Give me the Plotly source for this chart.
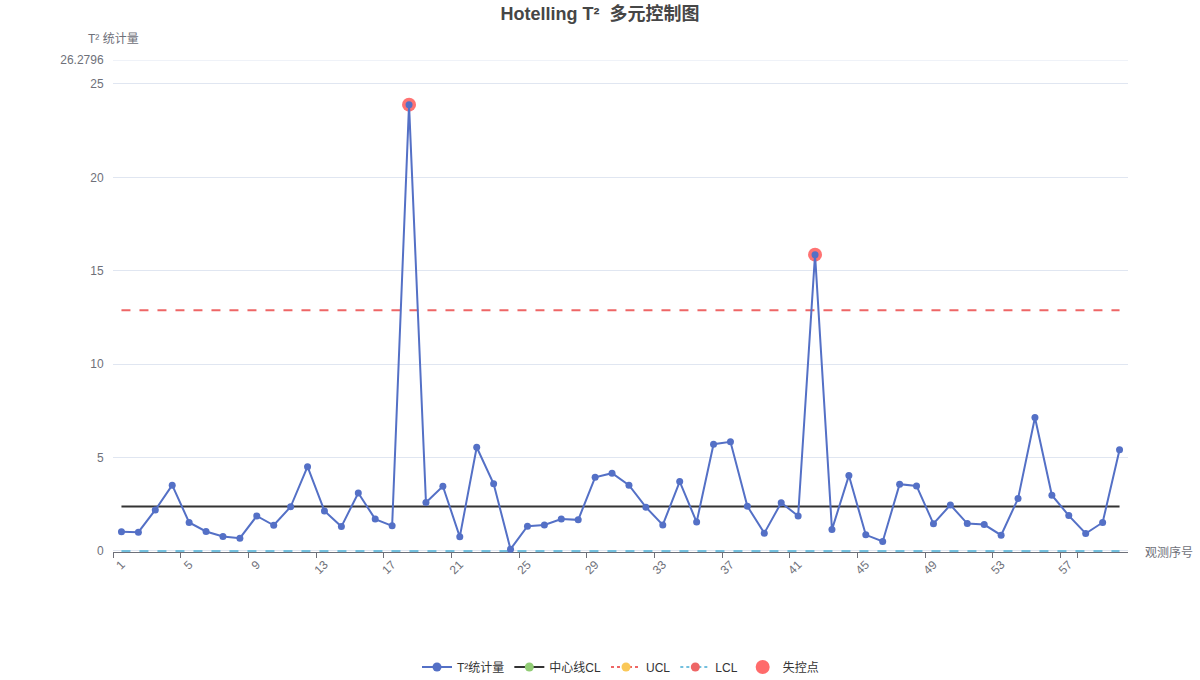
import plotly.graph_objects as go

# ---- data ----
obs = [str(i) for i in range(1, 61)]
t2_values = [1.02, 1.00, 2.19, 3.52, 1.52, 1.04, 0.77, 0.68, 1.87, 1.37,
             2.36, 4.51, 2.14, 1.30, 3.10, 1.70, 1.34, 23.89, 2.59, 3.46,
             0.75, 5.55, 3.59, 0.09, 1.32, 1.39, 1.70, 1.66, 3.94, 4.16,
             3.52, 2.34, 1.39, 3.71, 1.54, 5.71, 5.84, 2.39, 0.95, 2.58,
             1.87, 15.86, 1.14, 4.03, 0.86, 0.50, 3.57, 3.48, 1.45, 2.46,
             1.46, 1.41, 0.84, 2.80, 7.14, 2.98, 1.89, 0.93, 1.52, 5.41]
cl_value = 2.37
ucl_value = 12.88
lcl_value = 0.0
y_max = 26.2796
y_ticks = [0, 5, 10, 15, 20, 25, 26.2796]
y_ticktext = ["0", "5", "10", "15", "20", "25", "26.2796"]
x_tick_labels = [str(i) for i in range(1, 61, 4)]

out_x = [o for o, v in zip(obs, t2_values) if v > ucl_value]
out_y = [v for v in t2_values if v > ucl_value]

BLUE = "#5470c6"
GREEN = "#91cc75"
YELLOW = "#fac858"
RED = "#ee6666"
CYAN = "#73c0de"
OUTRED = "#ff6b6b"
FONT = "Helvetica Neue, Arial, Liberation Sans, Noto Sans CJK SC, sans-serif"

fig = go.Figure()

# control lines
fig.add_trace(go.Scatter(x=obs, y=[lcl_value] * len(obs), mode="lines",
                         line=dict(color=CYAN, width=2, dash="dash"),
                         showlegend=False, hoverinfo="skip"))
fig.add_trace(go.Scatter(x=obs, y=[ucl_value] * len(obs), mode="lines",
                         line=dict(color=RED, width=2, dash="dash"),
                         showlegend=False, hoverinfo="skip"))
fig.add_trace(go.Scatter(x=obs, y=[cl_value] * len(obs), mode="lines",
                         line=dict(color="#333333", width=2),
                         showlegend=False, hoverinfo="skip"))
# out-of-control points
fig.add_trace(go.Scatter(x=out_x, y=out_y, mode="markers",
                         marker=dict(color=OUTRED, size=14, opacity=0.95),
                         showlegend=False))
# main series
fig.add_trace(go.Scatter(x=obs, y=t2_values, mode="lines+markers",
                         line=dict(color=BLUE, width=2),
                         marker=dict(color=BLUE, size=7),
                         showlegend=False, cliponaxis=False))

# legend entries
fig.add_trace(go.Scatter(x=[None], y=[None], mode="lines+markers", name="T²统计量",
                         line=dict(color=BLUE, width=2), marker=dict(color=BLUE, size=9)))
fig.add_trace(go.Scatter(x=[None], y=[None], mode="lines+markers", name="中心线CL",
                         line=dict(color="#333333", width=2), marker=dict(color=GREEN, size=9)))
fig.add_trace(go.Scatter(x=[None], y=[None], mode="lines+markers", name="UCL",
                         line=dict(color=RED, width=2, dash="dot"), marker=dict(color=YELLOW, size=9)))
fig.add_trace(go.Scatter(x=[None], y=[None], mode="lines+markers", name="LCL",
                         line=dict(color=CYAN, width=2, dash="dot"), marker=dict(color=RED, size=9)))
fig.add_trace(go.Scatter(x=[None], y=[None], mode="markers", name="失控点",
                         marker=dict(color=OUTRED, size=14)))

fig.update_layout(
    width=1200, height=680,
    margin=dict(l=113, r=72, t=60, b=128, autoexpand=False),
    paper_bgcolor="white", plot_bgcolor="white",
    font=dict(family=FONT, size=12, color="#333333"),
    title=dict(text="Hotelling T²  多元控制图", x=0.5, xanchor="center",
               y=1 - 14 / 680, yanchor="middle", yref="container",
               font=dict(size=18, color="#464646", family=FONT, weight="bold")),
    legend=dict(orientation="h", x=0.5, xanchor="center", yref="container",
                y=1 - 667 / 680, yanchor="middle",
                font=dict(size=12, color="#333333"), itemwidth=30, traceorder="normal"),
    xaxis=dict(type="category", categoryorder="array", categoryarray=obs,
               range=[-0.5, len(obs) - 0.5],
               tickmode="array", tickvals=x_tick_labels, ticktext=x_tick_labels,
               tickson="boundaries", ticks="outside", ticklen=5, tickcolor="#6e7079",
               tickangle=-45, tickfont=dict(size=12, color="#6e7079"),
               showline=True, linecolor="#6e7079", linewidth=1, layer="below traces",
               showgrid=False, zeroline=False),
    yaxis=dict(range=[-0.06, y_max], tickmode="array", tickvals=y_ticks, ticktext=y_ticktext,
               showgrid=True, gridcolor="#e0e6f1", gridwidth=1,
               showline=False, zeroline=False,
               ticks="outside", ticklen=6, tickcolor="rgba(0,0,0,0)",
               tickfont=dict(size=12, color="#6e7079")),
    shapes=[dict(type="line", xref="paper", yref="y", x0=0, x1=1, y0=y_max, y1=y_max,
                 line=dict(color="#e0e6f1", width=1), layer="below")],
    annotations=[
        dict(text="T² 统计量", xref="paper", yref="paper", x=0, y=1 + 21 / 491,
             xanchor="center", yanchor="middle", showarrow=False,
             font=dict(size=12, color="#6e7079")),
        dict(text="观测序号", xref="paper", yref="paper", x=1, y=0, xshift=15,
             xanchor="left", yanchor="middle", showarrow=False,
             font=dict(size=12, color="#6e7079")),
    ],
)

fig.write_html("out.html")
